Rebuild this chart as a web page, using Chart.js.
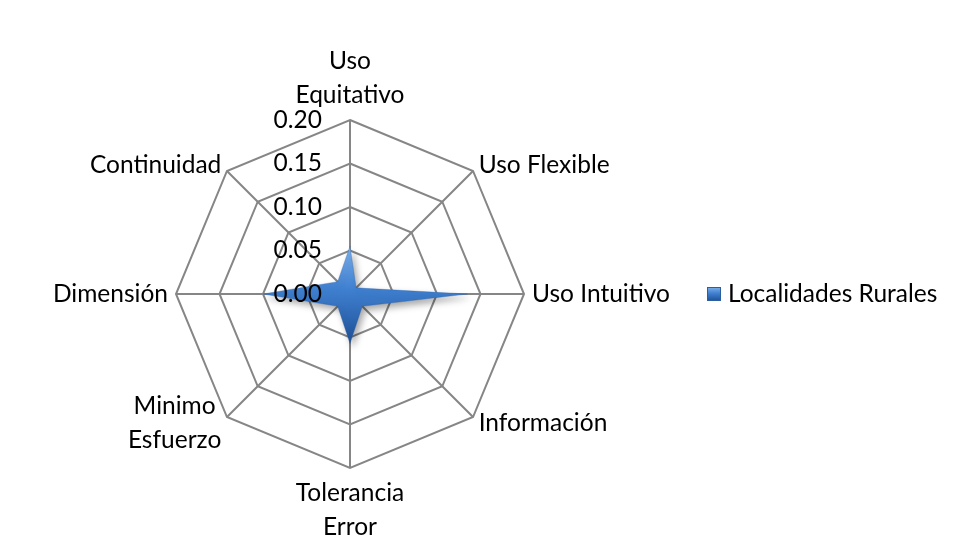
<!DOCTYPE html>
<html>
<head>
<meta charset="utf-8">
<script src="https://cdn.jsdelivr.net/npm/chart.js@4"></script>
<style>
  html, body { margin: 0; padding: 0; background: #fff; }
  #wrap { width: 959px; height: 538px; }
</style>
</head>
<body>
<div id="wrap"><canvas id="radar" width="959" height="538"></canvas></div>
<script>
const axisLabels = [
  ['Uso', 'Equitativo'],
  ['Uso Flexible'],
  ['Uso Intuitivo'],
  ['Información'],
  ['Tolerancia', 'Error'],
  ['Minimo', 'Esfuerzo'],
  ['Dimensión'],
  ['Continuidad'],
];
const ruralValues = [0.055, 0.01, 0.135, 0.02, 0.057, 0.02, 0.10, 0.02];
const seriesName = 'Localidades Rurales';
const tickValues = [0, 0.05, 0.10, 0.15, 0.20];
const tickLabels = ['0.00', '0.05', '0.10', '0.15', '0.20'];

const FONT = '24.5px Lato';
const LINE_H = 34;

function blueFill(ctx, y0, y1) {
  const g = ctx.createLinearGradient(0, y0, 0, y1);
  g.addColorStop(0, '#7fb2ec');
  g.addColorStop(0.45, '#3f80d0');
  g.addColorStop(1, '#1f5096');
  return g;
}

// shadow under the filled area
const shadowPlugin = {
  id: 'shadow',
  beforeDatasetsDraw(chart) {
    const ctx = chart.ctx;
    ctx.save();
    ctx.shadowColor = 'rgba(0,0,0,0.35)';
    ctx.shadowBlur = 7;
    ctx.shadowOffsetX = 3;
    ctx.shadowOffsetY = 4;
  },
  afterDatasetsDraw(chart) {
    chart.ctx.restore();
  },
};

// tick labels, axis labels and legend, Excel style
const textPlugin = {
  id: 'texts',
  afterDraw(chart) {
    const s = chart.scales.r;
    const ctx = chart.ctx;
    ctx.save();
    ctx.font = FONT;
    ctx.fillStyle = '#000';

    ctx.textAlign = 'right';
    ctx.textBaseline = 'middle';
    tickValues.forEach((v, i) => {
      const p = s.getPointPositionForValue(0, v);
      ctx.fillText(tickLabels[i], p.x - 28, p.y);
    });

    ctx.textAlign = 'center';
    axisLabels.forEach((lines, i) => {
      const p = s.getPointPosition(i, s.drawingArea + 8);
      const dx = p.x - s.xCenter;
      const dy = p.y - s.yCenter;
      const w = Math.max(...lines.map((l) => ctx.measureText(l).width));
      const h = lines.length * LINE_H;
      let cx = p.x;
      if (dx > 1) cx = p.x + w / 2;
      else if (dx < -1) cx = p.x - w / 2;
      let top = p.y - h / 2;
      if (Math.abs(dx) <= 1) top = dy < 0 ? p.y - h : p.y;
      lines.forEach((l, k) => ctx.fillText(l, cx, top + LINE_H * k + LINE_H / 2));
    });

    // legend
    const lx = 707, ly = 294;
    ctx.fillStyle = blueFill(ctx, ly - 7, ly + 7);
    ctx.fillRect(lx, ly - 7, 14, 14);
    ctx.strokeStyle = '#2b5f9f';
    ctx.lineWidth = 1;
    ctx.strokeRect(lx + 0.5, ly - 6.5, 13, 13);
    ctx.fillStyle = '#000';
    ctx.textAlign = 'left';
    ctx.fillText(seriesName, lx + 21, ly);
    ctx.restore();
  },
};

new Chart(document.getElementById('radar'), {
  type: 'radar',
  data: {
    labels: axisLabels,
    datasets: [{
      label: seriesName,
      data: ruralValues,
      fill: true,
      backgroundColor: (c) => {
        const s = c.chart.scales.r;
        if (!s || !Number.isFinite(s.yCenter)) return '#4a8ad6';
        return blueFill(c.chart.ctx, s.yCenter - 50, s.yCenter + 50);
      },
      borderColor: 'rgba(40,90,160,0.6)',
      borderWidth: 0.5,
      pointRadius: 0,
      tension: 0,
    }],
  },
  options: {
    responsive: false,
    animation: false,
    layout: { padding: { left: 176, top: 120, right: 435, bottom: 70 } },
    plugins: {
      legend: { display: false },
      tooltip: { enabled: false },
    },
    scales: {
      r: {
        min: 0,
        max: 0.2,
        ticks: { stepSize: 0.05, display: false },
        grid: { color: '#868686', lineWidth: 2, circular: false },
        angleLines: { color: '#868686', lineWidth: 2 },
        pointLabels: { display: false },
      },
    },
  },
  plugins: [shadowPlugin, textPlugin],
});
</script>
</body>
</html>
